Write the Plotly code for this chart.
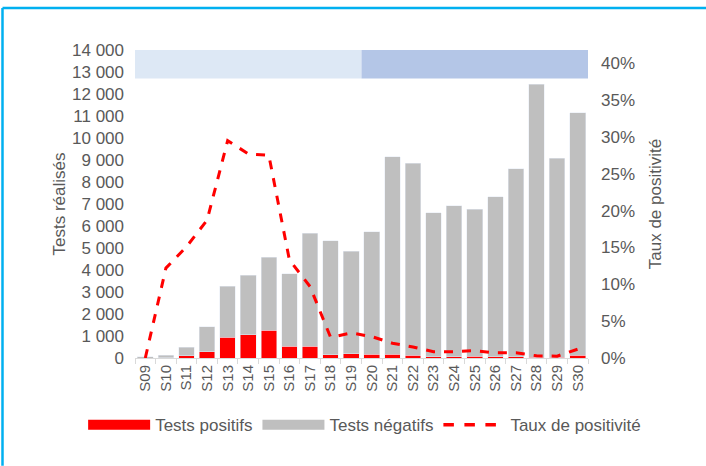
import plotly.graph_objects as go

semaines = ['S09', 'S10', 'S11', 'S12', 'S13', 'S14', 'S15', 'S16', 'S17', 'S18', 'S19',
            'S20', 'S21', 'S22', 'S23', 'S24', 'S25', 'S26', 'S27', 'S28', 'S29', 'S30']
tests_positifs = [0, 10, 100, 290, 950, 1060, 1260, 545, 545, 140, 190,
                  160, 180, 130, 60, 60, 70, 50, 60, 40, 25, 130]
tests_negatifs = [60, 120, 380, 1130, 2310, 2710, 3330, 3275, 5135, 5180, 4670,
                  5580, 8960, 8730, 6540, 6860, 6690, 7270, 8540, 12410, 9065, 11010]
taux_positivite = [0.0, 0.122, 0.151, 0.187, 0.295, 0.277, 0.275, 0.133, 0.097, 0.028, 0.034,
                   0.029, 0.020, 0.015, 0.0085, 0.0085, 0.010, 0.007, 0.007, 0.003, 0.0025, 0.012]

y_ticks = [0, 1000, 2000, 3000, 4000, 5000, 6000, 7000, 8000, 9000, 10000, 11000, 12000, 13000, 14000]
y_ticklabels = ['0', '1 000', '2 000', '3 000', '4 000', '5 000', '6 000', '7 000', '8 000',
                '9 000', '10 000', '11 000', '12 000', '13 000', '14 000']
y2_ticks = [0, 0.05, 0.10, 0.15, 0.20, 0.25, 0.30, 0.35, 0.40]
y2_ticklabels = ['0%', '5%', '10%', '15%', '20%', '25%', '30%', '35%', '40%']

gris_txt = '#595959'
font = dict(family='Arial, Liberation Sans, sans-serif', size=17, color=gris_txt)

fig = go.Figure()

fig.add_trace(go.Bar(x=semaines, y=tests_positifs, name='Tests positifs',
                     marker_color='#FF0000', showlegend=False))
fig.add_trace(go.Bar(x=semaines, y=tests_negatifs, name='Tests négatifs',
                     marker_color='#BFBFBF', showlegend=False))
fig.add_trace(go.Scatter(x=semaines, y=taux_positivite, name='Taux de positivité', yaxis='y2',
                         mode='lines', line=dict(color='#FF0000', width=3, dash='dash'),
                         showlegend=False))

# legend entries (wide rectangles like the excel legend)
fig.add_trace(go.Scatter(x=[None], y=[None], mode='lines', name='Tests positifs',
                         line=dict(color='#FF0000', width=12)))
fig.add_trace(go.Scatter(x=[None], y=[None], mode='lines', name='Tests négatifs',
                         line=dict(color='#BFBFBF', width=12)))
fig.add_trace(go.Scatter(x=[None], y=[None], mode='lines', name='Taux de positivité',
                         line=dict(color='#FF0000', width=3.5, dash='dash')))

# periods band on top
fig.add_shape(type='rect', xref='x', yref='y', x0=-0.5, x1=10.5, y0=12700, y1=14000,
              fillcolor='#DDE8F5', line_width=0, layer='below')
fig.add_shape(type='rect', xref='x', yref='y', x0=10.5, x1=21.5, y0=12700, y1=14000,
              fillcolor='#B4C6E7', line_width=0, layer='below')

# cyan frame
fig.add_shape(type='line', xref='paper', yref='paper', x0=-0.2925, x1=1.27, y0=1.136, y1=1.136,
              line=dict(color='#00B0F0', width=2.5))
fig.add_shape(type='line', xref='paper', yref='paper', x0=-0.2925, x1=-0.2925, y0=-0.35, y1=1.136,
              line=dict(color='#00B0F0', width=2.5))

fig.update_layout(
    width=706, height=466,
    margin=dict(l=135, r=118, t=50, b=108),
    paper_bgcolor='white', plot_bgcolor='white',
    barmode='stack', bargap=0.24,
    font=font,
    xaxis=dict(type='category', tickangle=-90, tickfont=dict(size=15, color=gris_txt),
               showline=True, linecolor='#D9D9D9', linewidth=1,
               ticks='outside', tickson='boundaries', ticklen=5, tickcolor='#D9D9D9',
               showgrid=False, range=[-0.5, 21.5]),
    yaxis=dict(range=[0, 14000], tickvals=y_ticks, ticktext=y_ticklabels, showgrid=False,
               zeroline=False, tickfont=dict(size=17, color=gris_txt), ticklabelstandoff=10,
               title=dict(text='Tests réalisés', font=dict(size=17, color=gris_txt), standoff=2)),
    yaxis2=dict(range=[0, 0.418], overlaying='y', side='right', tickvals=y2_ticks,
                ticktext=y2_ticklabels, showgrid=False, zeroline=False,
                tickfont=dict(size=17, color=gris_txt), ticklabelstandoff=12,
                title=dict(text='Taux de positivité', font=dict(size=17, color=gris_txt), standoff=15)),
    legend=dict(orientation='h', x=-0.1145, xanchor='left',
                y=-0.218, yanchor='middle', traceorder='normal',
                font=dict(size=17, color=gris_txt), itemwidth=62, bgcolor='rgba(0,0,0,0)'),
)

fig.write_html('out.html', config={'displayModeBar': False},
               post_script="document.body.style.margin='0';")
